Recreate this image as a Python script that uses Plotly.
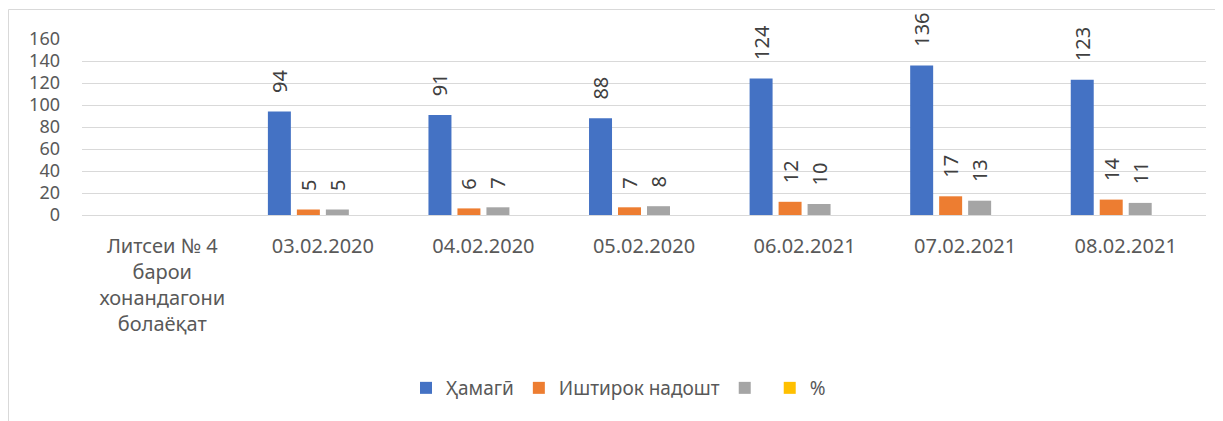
import plotly.graph_objects as go

categories = ["Литсеи № 4<br>барои<br>хонандагони<br>болаёқат",
              "03.02.2020", "04.02.2020", "05.02.2020",
              "06.02.2021", "07.02.2021", "08.02.2021"]
hamagi = [None, 94, 91, 88, 124, 136, 123]
ishtirok = [None, 5, 6, 7, 12, 17, 14]
gray_vals = [None, 5, 7, 8, 10, 13, 11]
percent = [None, None, None, None, None, None, None]

series = [
    ("Ҳамагӣ", hamagi, "#4472C4"),
    ("Иштирок надошт", ishtirok, "#ED7D31"),
    ("", gray_vals, "#A5A5A5"),
    ("%", percent, "#FFC000"),
]

FONT = "Noto Sans"
TXT = "#595959"

fig = go.Figure()
for name, vals, color in series:
    fig.add_trace(go.Bar(
        x=categories, y=vals, name=name, marker_color=color,
        marker_line_width=0,
        text=["\u00a0\u00a0\u00a0" + str(v) if v is not None else "" for v in vals],
        textposition="outside", textangle=-90, cliponaxis=False,
        textfont=dict(family=FONT, size=20, color="#404040"),
    ))

# page has an 8px body margin; figure occupies page x 8..1223, y 8..421
OFF = 8
W0, H0 = 1223 - OFF, 421 - OFF
PL, PR, PT, PB = 82, 1206, 39, 215   # plot area in page pixels
L, T = PL - OFF, PT - OFF
R = W0 - (PR - OFF)
B = H0 - (PB - OFF)
pw, ph = PR - PL, PB - PT

def px(x):
    return (x - PL) / pw

def py(y):
    return (PB - y) / ph

fig.update_layout(
    width=W0, height=H0,
    margin=dict(l=L, r=R, t=T, b=B, autoexpand=False),
    paper_bgcolor="white", plot_bgcolor="white",
    barmode="group", bargap=0.278, bargroupgap=0.207,
    font=dict(family=FONT, size=20, color=TXT),
    showlegend=True,
    legend=dict(orientation="h", x=px(406), xanchor="left", y=py(388), yanchor="middle",
                font=dict(family=FONT, size=19, color=TXT), traceorder="normal"),
    uniformtext=dict(minsize=20, mode="show"),
    shapes=[
        dict(type="line", xref="paper", yref="paper", x0=px(8.5), x1=px(1240), y0=py(9.5), y1=py(9.5),
             line=dict(color="#D9D9D9", width=1)),
        dict(type="line", xref="paper", yref="paper", x0=px(8.5), x1=px(8.5), y0=py(9.5), y1=py(440),
             line=dict(color="#D9D9D9", width=1)),
    ],
)
fig.update_xaxes(showgrid=False, showline=False, ticks="", ticklabelstandoff=17, automargin=False,
                 tickfont=dict(family=FONT, size=20, color=TXT))
fig.update_yaxes(range=[0, 160], dtick=20, showgrid=True, gridcolor="#D9D9D9", gridwidth=1,
                 zeroline=True, zerolinecolor="#D9D9D9", zerolinewidth=1, automargin=False,
                 showline=False, ticks="", ticklabelstandoff=21,
                 tickfont=dict(family=FONT, size=18, color=TXT))

fig.write_html("out.html")
